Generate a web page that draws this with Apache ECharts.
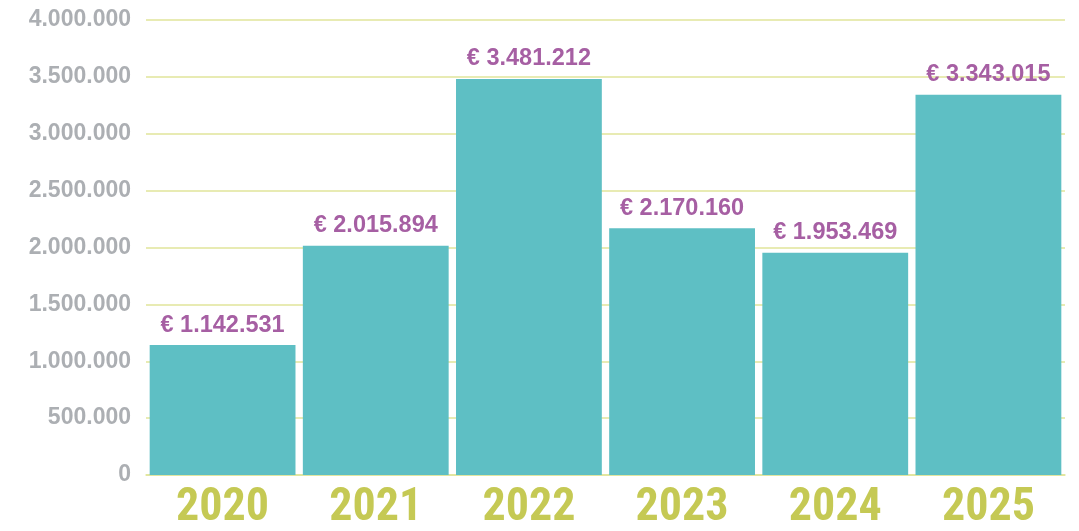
<!DOCTYPE html>
<html>
<head>
<meta charset="utf-8">
<script src="https://cdn.jsdelivr.net/npm/echarts@6/dist/echarts.min.js"></script>
<style>
  html, body { margin: 0; padding: 0; background: #ffffff; }
  #chart { width: 1079px; height: 531px; }
</style>
</head>
<body>
<div id="chart"></div>
<script>
// Yearly totals in euro
const years = ['2020', '2021', '2022', '2023', '2024', '2025'];
const totals = [1142531, 2015894, 3481212, 2170160, 1953469, 3343015];

// Value axis range
const axisMin = 0;
const axisMax = 4000000;
const axisStep = 500000;

// Dutch-style thousands separator
function dots(n) {
  return String(Math.round(n)).replace(/\B(?=(\d{3})+(?!\d))/g, '.');
}

const chart = echarts.init(document.getElementById('chart'), null, { renderer: 'canvas' });

chart.setOption({
  animation: false,
  backgroundColor: '#ffffff',
  grid: { left: 146, right: 14, top: 20, bottom: 56, containLabel: false },
  xAxis: {
    type: 'category',
    data: years,
    axisLine: { show: true, lineStyle: { color: '#e0e59a', width: 1.5 } },
    axisTick: { show: false },
    axisLabel: {
      color: '#c5c954',
      fontFamily: 'Roboto Condensed',
      fontWeight: 'bold',
      fontSize: 46,
      margin: 10
    }
  },
  yAxis: {
    type: 'value',
    min: axisMin,
    max: axisMax,
    interval: axisStep,
    axisLine: { show: false },
    axisTick: { show: false },
    splitLine: { show: true, lineStyle: { color: '#e0e59a', width: 1.5 } },
    axisLabel: {
      color: '#acafb3',
      fontFamily: 'Liberation Sans',
      fontWeight: 'bold',
      fontSize: 23,
      margin: 15,
      formatter: v => dots(v)
    }
  },
  series: [{
    type: 'bar',
    data: totals,
    barCategoryGap: '4.8%',
    itemStyle: { color: '#5ebfc4' },
    label: {
      show: true,
      position: 'top',
      distance: 8,
      color: '#a65fa3',
      fontFamily: 'Liberation Sans',
      fontWeight: 'bold',
      fontSize: 23.5,
      formatter: p => '€ ' + dots(p.value)
    }
  }]
});
</script>
</body>
</html>
